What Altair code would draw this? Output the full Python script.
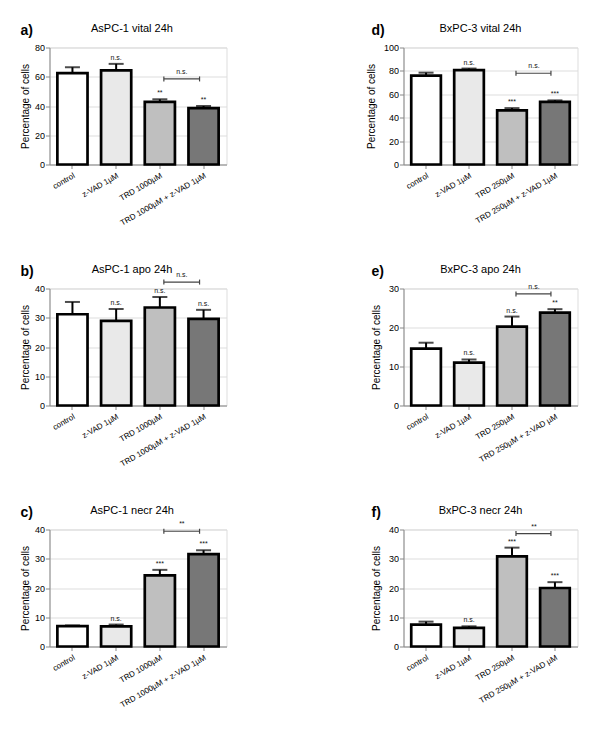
import altair as alt
import pandas as pd

# ---------------- data ----------------
GROUPS_A = ["control", "z-VAD 1µM", "TRD 1000µM", "TRD 1000µM + z-VAD 1µM"]
GROUPS_D = ["control", "z-VAD 1µM", "TRD 250µM", "TRD 250µM + z-VAD 1µM"]
GROUPS_EF = ["control", "z-VAD 1µM", "TRD 250µM", "TRD 250µM + z-VAD µM"]

a_mean = [62.5, 64.3, 42.8, 38.5]
a_err = [4.0, 4.5, 1.8, 1.5]
a_sig = ["", "n.s.", "**", "**"]

b_mean = [31.2, 28.9, 33.5, 29.6]
b_err = [4.2, 4.1, 3.6, 3.1]
b_sig = ["", "n.s.", "n.s.", "n.s."]

c_mean = [7.0, 6.9, 24.3, 31.6]
c_err = [0.2, 0.6, 1.9, 1.3]
c_sig = ["", "n.s.", "***", "***"]

d_mean = [76.0, 80.7, 46.2, 53.6]
d_err = [2.5, 1.3, 2.0, 1.2]
d_sig = ["", "n.s.", "***", "***"]

e_mean = [14.6, 11.0, 20.2, 23.8]
e_err = [1.5, 0.8, 2.6, 0.9]
e_sig = ["", "n.s.", "n.s.", "**"]

f_mean = [7.5, 6.4, 30.8, 20.0]
f_err = [1.0, 0.5, 3.0, 2.0]
f_sig = ["", "n.s.", "***", "***"]

# bracket (TRD vs TRD + z-VAD) level and label
bracket_level = {"a": 58.5, "b": 42.2, "c": 39.4, "d": 78.0, "e": 28.6, "f": 38.6}
bracket_label = {"a": "n.s.", "b": "n.s.", "c": "**", "d": "n.s.", "e": "n.s.", "f": "**"}

titles = {
    "a": "AsPC-1 vital 24h", "b": "AsPC-1 apo 24h", "c": "AsPC-1 necr 24h",
    "d": "BxPC-3 vital 24h", "e": "BxPC-3 apo 24h", "f": "BxPC-3 necr 24h",
}
y_ticks = {
    "a": [0, 20, 40, 60, 80], "b": [0, 10, 20, 30, 40], "c": [0, 10, 20, 30, 40],
    "d": [0, 20, 40, 60, 80, 100], "e": [0, 10, 20, 30], "f": [0, 10, 20, 30, 40],
}

# ---------------- style ----------------
FILLS = ["#ffffff", "#e9e9e9", "#bfbfbf", "#777777"]
FONT = "Liberation Sans"
LEFT_W, RIGHT_W, H = 177, 174, 117


def panel(key, groups, mean, err, sig, width, label_dx, title_dx, title_pad):
    df = pd.DataFrame({"group": groups, "mean": mean, "err": err, "sig": sig, "fill": FILLS})
    df["top"] = df["mean"] + df["err"]
    ymax = y_ticks[key][-1]

    xscale = alt.Scale(domain=groups, paddingInner=0.31, paddingOuter=0.18)
    xaxis = alt.Axis(title=None, labelAngle=-30, labelAlign="right", labelBaseline="top",
                     labelFontSize=8, labelPadding=3, tickSize=4, labelOverlap=False)
    yscale = alt.Scale(domain=[0, ymax], nice=False, zero=True)
    yaxis = alt.Axis(title="Percentage of cells", values=y_ticks[key], labelFontSize=9,
                     titleFontSize=10, titleFontWeight="normal", titlePadding=title_pad,
                     tickSize=4, labelPadding=1)

    def X(field):
        return alt.X(field, scale=xscale, axis=xaxis)

    def Y(field):
        return alt.Y(field, scale=yscale, axis=yaxis)

    base = alt.Chart(df)
    bars = base.mark_bar(stroke="black", strokeWidth=2.7).encode(
        x=X("group:N"), y=Y("mean:Q"), fill=alt.Fill("fill:N", scale=None))
    err_line = base.mark_rule(color="black", strokeWidth=2).encode(
        x=X("group:N"), y=Y("mean:Q"), y2="top:Q")
    cap = base.mark_tick(color="black", thickness=2, size=15).encode(
        x=X("group:N"), y=Y("top:Q"))
    stars = base.mark_text(font=FONT, fontSize=7, baseline="bottom", dy=-3, color="#111").encode(
        x=X("group:N"), y=Y("top:Q"), text="sig:N")

    br = pd.DataFrame({"g1": [groups[2]], "g2": [groups[3]],
                       "lev": [bracket_level[key]], "lab": [bracket_label[key]]})
    br_line = alt.Chart(br).mark_rule(color="#444", strokeWidth=1.2, xOffset=4, x2Offset=-4).encode(
        x=X("g1:N"), x2="g2:N", y=Y("lev:Q"))
    br_tick1 = alt.Chart(br).mark_rule(color="#444", strokeWidth=1.2, xOffset=4,
                                       yOffset=-2.5, y2Offset=2.5).encode(
        x=X("g1:N"), y=Y("lev:Q"), y2="lev:Q")
    br_tick2 = alt.Chart(br).mark_rule(color="#444", strokeWidth=1.2, xOffset=-4,
                                       yOffset=-2.5, y2Offset=2.5).encode(
        x=X("g2:N"), y=Y("lev:Q"), y2="lev:Q")
    br_text = alt.Chart(br).mark_text(font=FONT, fontSize=7, baseline="bottom", dy=-4, xOffset=22,
                                      color="#111").encode(
        x=X("g1:N"), y=Y("lev:Q"), text="lab:N")

    lab = alt.Chart(pd.DataFrame({"t": [key + ")"]})).mark_text(
        font=FONT, fontSize=14, fontWeight="bold", align="left", baseline="alphabetic").encode(
        x=alt.value(label_dx), y=alt.value(-13), text="t:N")
    ttl = alt.Chart(pd.DataFrame({"t": [titles[key]]})).mark_text(
        font=FONT, fontSize=11, align="center", baseline="alphabetic").encode(
        x=alt.value(width / 2 + title_dx), y=alt.value(-15.5), text="t:N")

    return alt.layer(bars, err_line, cap, stars, br_line, br_tick1, br_tick2, br_text,
                     lab, ttl).properties(width=width, height=H)


pa = panel("a", GROUPS_A, a_mean, a_err, a_sig, LEFT_W, -29, -6, 3.5)
pd_ = panel("d", GROUPS_D, d_mean, d_err, d_sig, RIGHT_W, -32, -10, 7)
pb = panel("b", GROUPS_A, b_mean, b_err, b_sig, LEFT_W, -29, -6, 3.5)
pe = panel("e", GROUPS_EF, e_mean, e_err, e_sig, RIGHT_W, -32, -10, 7)
pc = panel("c", GROUPS_A, c_mean, c_err, c_sig, LEFT_W, -29, -6, 3.5)
pf = panel("f", GROUPS_EF, f_mean, f_err, f_sig, RIGHT_W, -32, -10, 7)

chart = alt.concat(pa, pd_, pb, pe, pc, pf, columns=2, bounds="flush",
                   spacing=alt.RowColnumber(row=124, column=177)).resolve_scale(
    x="independent", y="independent").properties(
    padding={"left": 11.5, "top": 14.5, "right": 5, "bottom": 5}
).configure_view(stroke=None).configure_axis(
    labelFont=FONT, titleFont=FONT, labelColor="black", titleColor="black",
    domainColor="black", domainWidth=2.5, tickColor="black", tickWidth=2, grid=False
).configure(background="white")

chart.save("out.html", embed_options={"renderer": "svg", "actions": False})
